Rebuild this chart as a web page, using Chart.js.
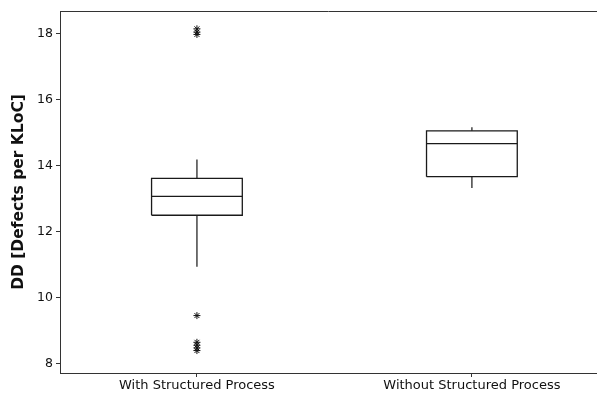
<!DOCTYPE html>
<html>
<head>
<meta charset="utf-8">
<script src="https://cdn.jsdelivr.net/npm/chart.js@4"></script>
<style>
  html, body { margin: 0; padding: 0; background: #fff; }
  #wrap { width: 597px; height: 396px; }
</style>
</head>
<body>
<div id="wrap"><canvas id="chart"></canvas></div>
<script>
// box plot values
const categories = ['With Structured Process', 'Without Structured Process'];
const whiskerLow = [10.94, 13.33];
const q1 = [12.50, 13.67];
const median = [13.07, 14.67];
const q3 = [13.62, 15.06];
const whiskerHigh = [14.19, 15.17];
const outliers = [
    [18.15, 18.05, 17.98, 9.46, 8.65, 8.56, 8.48, 8.40],
    []
];
const yTicks = [8, 10, 12, 14, 16, 18];

const boxHalf = 0.165;
const lineColor = '#1a1a1a';

function seg(points, width, color) {
    return {
        data: points,
        showLine: true,
        borderColor: color || lineColor,
        borderWidth: width,
        pointRadius: 0,
        fill: false,
        tension: 0
    };
}

const datasets = [];
categories.forEach((c, i) => {
    const x = i + 1;
    datasets.push(seg([
        { x: x - boxHalf, y: q1[i] }, { x: x + boxHalf, y: q1[i] },
        { x: x + boxHalf, y: q3[i] }, { x: x - boxHalf, y: q3[i] },
        { x: x - boxHalf, y: q1[i] }
    ], 1.3));
    datasets.push(seg([{ x: x - boxHalf, y: median[i] }, { x: x + boxHalf, y: median[i] }], 1.3));
    datasets.push(seg([{ x: x, y: q3[i] }, { x: x, y: whiskerHigh[i] }], 1.5, '#444'));
    datasets.push(seg([{ x: x, y: q1[i] }, { x: x, y: whiskerLow[i] }], 1.5, '#444'));
    if (outliers[i].length) {
        datasets.push({
            data: outliers[i].map(v => ({ x: x, y: v })),
            showLine: false,
            pointStyle: 'star',
            pointRadius: 3.5,
            borderColor: '#111',
            borderWidth: 1
        });
    }
});

// top line of the frame
const topFrame = {
    id: 'topFrame',
    afterDraw(chart) {
        const { ctx, chartArea } = chart;
        ctx.save();
        ctx.strokeStyle = '#333';
        ctx.lineWidth = 1;
        ctx.beginPath();
        ctx.moveTo(chartArea.left, Math.round(chartArea.top) + 0.5);
        ctx.lineTo(chartArea.right, Math.round(chartArea.top) + 0.5);
        ctx.stroke();
        ctx.restore();
    }
};

new Chart(document.getElementById('chart'), {
    type: 'scatter',
    data: { datasets },
    plugins: [topFrame],
    options: {
        responsive: true,
        maintainAspectRatio: false,
        animation: false,
        layout: { autoPadding: false, padding: { left: 10, top: 11, right: 0, bottom: 0 } },
        plugins: { legend: { display: false }, tooltip: { enabled: false } },
        scales: {
            x: {
                type: 'linear',
                min: 0.502,
                max: 2.455,
                afterBuildTicks: s => { s.ticks = categories.map((c, i) => ({ value: i + 1 })); },
                afterFit: s => { s.height = 23; s.paddingRight = 0; },
                ticks: {
                    callback: v => categories[v - 1],
                    color: '#111',
                    font: { family: 'DejaVu Sans', size: 13 },
                    padding: 1,
                    maxRotation: 0
                },
                grid: { drawOnChartArea: false, drawTicks: true, tickLength: 4, color: '#333' },
                border: { color: '#333', width: 1 }
            },
            y: {
                min: 7.72,
                max: 18.69,
                afterBuildTicks: s => { s.ticks = yTicks.map(v => ({ value: v })); },
                afterFit: s => { s.width = 50; s.paddingTop = 0; s.paddingBottom = 0; },
                ticks: {
                    color: '#111',
                    font: { family: 'DejaVu Sans', size: 12.5 },
                    padding: 3
                },
                title: {
                    display: true,
                    text: 'DD [Defects per KLoC]',
                    color: '#111',
                    font: { family: 'DejaVu Sans', size: 15.5, weight: 'bold' },
                    padding: { top: 0, bottom: 0 }
                },
                grid: { drawOnChartArea: false, drawTicks: true, tickLength: 4, color: '#333' },
                border: { color: '#333', width: 1 }
            }
        }
    }
});
</script>
</body>
</html>
